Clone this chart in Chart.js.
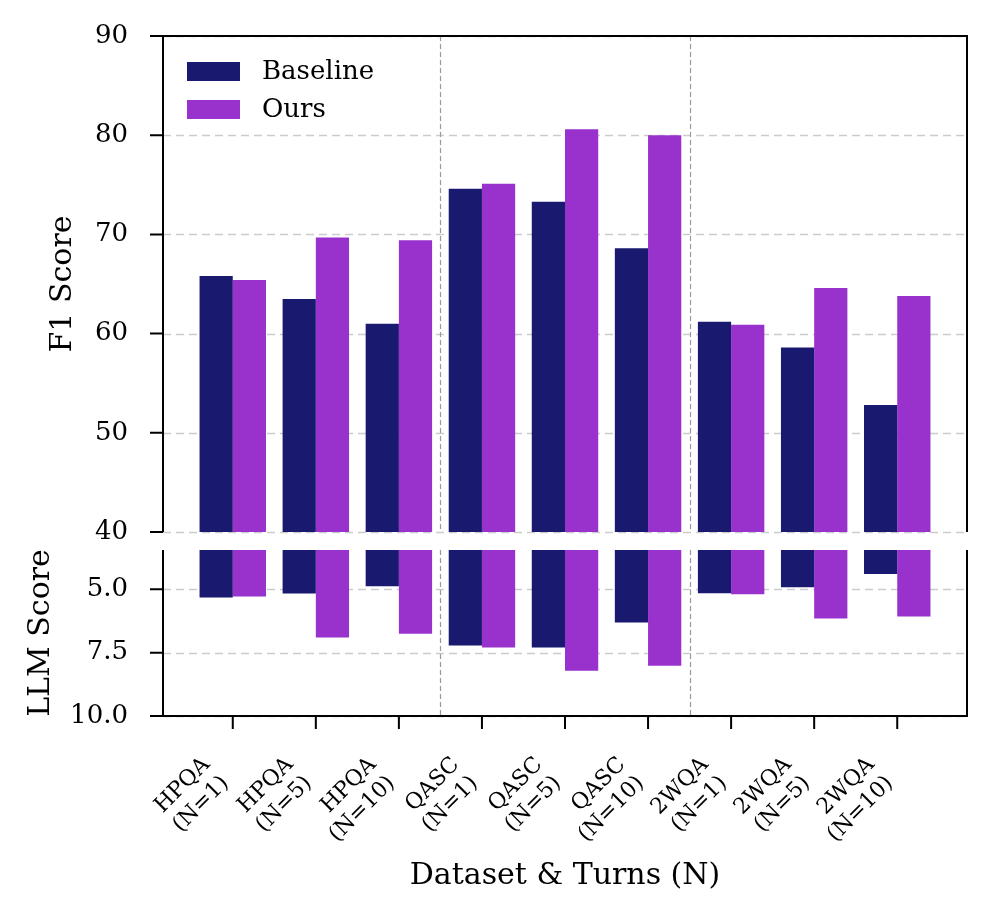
<!DOCTYPE html>
<html>
<head>
<meta charset="utf-8">
<script src="https://cdn.jsdelivr.net/npm/chart.js@4.4.1/dist/chart.umd.min.js"></script>
<style>
  html, body { margin: 0; padding: 0; background: #fff; }
  #wrap { position: relative; width: 995px; height: 919px; background: #fff; }
  canvas { position: absolute; left: 0; }
  #topChart { top: 0; }
  #bottomChart { top: 540px; }
</style>
</head>
<body>
<div id="wrap">
  <canvas id="topChart" width="995" height="545"></canvas>
  <canvas id="bottomChart" width="995" height="379"></canvas>
</div>
<script>
// Dataset & turns categories (two-line tick labels)
const categories = [
  ['HPQA', '(N=1)'], ['HPQA', '(N=5)'], ['HPQA', '(N=10)'],
  ['QASC', '(N=1)'], ['QASC', '(N=5)'], ['QASC', '(N=10)'],
  ['2WQA', '(N=1)'], ['2WQA', '(N=5)'], ['2WQA', '(N=10)']
];
const seriesNames = ['Baseline', 'Ours'];

const baselineF1 = [65.8, 63.5, 61.0, 74.6, 73.3, 68.6, 61.2, 58.6, 52.8];
const oursF1     = [65.4, 69.7, 69.4, 75.1, 80.6, 80.0, 60.9, 64.6, 63.8];

const baselineLLM = [5.32, 5.17, 4.88, 7.22, 7.30, 6.31, 5.16, 4.92, 4.40];
const oursLLM     = [5.28, 6.90, 6.75, 7.30, 8.21, 8.02, 5.20, 6.15, 6.07];

const f1Ticks  = [40, 50, 60, 70, 80, 90];
const llmTicks = [5.0, 7.5, 10.0];
const groupSeparators = [2.5, 5.5];

const COLORS = ['#191970', '#9932CC'];
const FONT = 'DejaVu Serif';

function toPoints(arr) {
  return arr.map((v, i) => ({ x: i, y: v }));
}

// grid, spines, tick marks and separators for a broken-axis panel
const framePlugin = {
  id: 'frame',
  beforeDatasetsDraw(chart, args, opts) {
    const { ctx, chartArea: a, scales: { x, y } } = chart;
    ctx.save();
    ctx.strokeStyle = '#cccccc';
    ctx.lineWidth = 1.5;
    ctx.setLineDash([8, 5]);
    y.ticks.forEach(t => {
      const py = Math.round(y.getPixelForValue(t.value)) + 0.5;
      ctx.beginPath(); ctx.moveTo(a.left, py); ctx.lineTo(a.right, py); ctx.stroke();
    });
    ctx.strokeStyle = '#999999';
    ctx.lineWidth = 1.2;
    ctx.setLineDash([5, 3]);
    groupSeparators.forEach(v => {
      const px = Math.round(x.getPixelForValue(v)) + 0.5;
      ctx.beginPath(); ctx.moveTo(px, a.top); ctx.lineTo(px, a.bottom); ctx.stroke();
    });
    ctx.restore();
  },
  afterDatasetsDraw(chart, args, opts) {
    const { ctx, chartArea: a, scales: { x, y } } = chart;
    ctx.save();
    ctx.strokeStyle = '#000';
    ctx.lineWidth = 2;
    ctx.setLineDash([]);
    ctx.beginPath();
    ctx.moveTo(a.left, a.top); ctx.lineTo(a.left, a.bottom);
    ctx.moveTo(a.right, a.top); ctx.lineTo(a.right, a.bottom);
    if (opts.top) { ctx.moveTo(a.left - 1, a.top); ctx.lineTo(a.right + 1, a.top); }
    if (opts.bottom) { ctx.moveTo(a.left - 1, a.bottom); ctx.lineTo(a.right + 1, a.bottom); }
    ctx.stroke();
    // tick marks
    ctx.beginPath();
    y.ticks.forEach(t => {
      const py = y.getPixelForValue(t.value);
      ctx.moveTo(a.left - 13, py); ctx.lineTo(a.left, py);
    });
    if (opts.xTicks) {
      x.ticks.forEach(t => {
        const px = x.getPixelForValue(t.value);
        ctx.moveTo(px, a.bottom); ctx.lineTo(px, a.bottom + 13);
      });
    }
    ctx.stroke();
    ctx.restore();
  }
};

// legend inside upper-left of the top panel
const legendPlugin = {
  id: 'innerLegend',
  afterDraw(chart) {
    const { ctx, chartArea: a } = chart;
    ctx.save();
    ctx.font = '26px "' + FONT + '"';
    ctx.textBaseline = 'middle';
    chart.data.datasets.forEach((ds, i) => {
      const y0 = a.top + 26 + i * 38;
      ctx.fillStyle = ds.backgroundColor;
      ctx.fillRect(a.left + 24, y0, 53, 19);
      ctx.fillStyle = '#000';
      ctx.fillText(ds.label, a.left + 99, y0 + 10);
    });
    ctx.restore();
  }
};

function xScale(showLabels) {
  return {
    type: 'linear',
    min: -0.84,
    max: 8.84,
    offset: false,
    display: showLabels,
    grid: { display: false, drawTicks: false },
    border: { display: false },
    afterBuildTicks: s => { s.ticks = categories.map((c, i) => ({ value: i })); },
    ticks: {
      autoSkip: false,
      minRotation: 45,
      maxRotation: 45,
      padding: 36,
      labelOffset: -26,
      color: '#000',
      font: { family: FONT, size: 22 },
      callback: v => categories[v]
    },
    title: {
      display: showLabels,
      text: 'Dataset & Turns (N)',
      color: '#000',
      font: { family: FONT, size: 30 },
      padding: { top: 0, bottom: 25 }
    },
    afterFit: s => {
      if (showLabels) s.height = 203;
      s.paddingLeft = 0; s.paddingRight = 0;
    }
  };
}

function yScale(opts) {
  return {
    type: 'linear',
    min: opts.min,
    max: opts.max,
    reverse: !!opts.reverse,
    grid: { display: false, drawTicks: false },
    border: { display: false },
    afterBuildTicks: s => { s.ticks = opts.ticks.map(v => ({ value: v })); },
    ticks: {
      padding: 35,
      color: '#000',
      font: { family: FONT, size: 26 },
      callback: opts.fmt
    },
    title: {
      display: true,
      text: opts.title,
      color: '#000',
      font: { family: FONT, size: 30 },
      padding: { top: opts.titlePad, bottom: 0 }
    },
    afterFit: s => {
      s.width = 163;
      s.paddingTop = 0; s.paddingBottom = 0;
    }
  };
}

function makeDatasets(a, b) {
  return [
    { label: seriesNames[0], data: toPoints(a), backgroundColor: COLORS[0], borderWidth: 0 },
    { label: seriesNames[1], data: toPoints(b), backgroundColor: COLORS[1], borderWidth: 0 }
  ];
}

const common = {
  responsive: false,
  animation: false,
  devicePixelRatio: 1,
  plugins: { legend: { display: false }, tooltip: { enabled: false } },
  datasets: { bar: { categoryPercentage: 0.8, barPercentage: 1.0 } }
};

new Chart(document.getElementById('topChart'), {
  type: 'bar',
  data: { datasets: makeDatasets(baselineF1, oursF1) },
  options: Object.assign({}, common, {
    layout: { padding: { left: 0, right: 28, top: 36, bottom: 13 } },
    scales: {
      x: xScale(false),
      y: yScale({ min: 40, max: 90, ticks: f1Ticks, title: 'F1 Score', titlePad: 45, fmt: v => String(v) })
    },
    plugins: Object.assign({}, common.plugins, { frame: { top: true, bottom: false, xTicks: false } })
  }),
  plugins: [framePlugin, legendPlugin]
});

new Chart(document.getElementById('bottomChart'), {
  type: 'bar',
  data: { datasets: makeDatasets(baselineLLM, oursLLM) },
  options: Object.assign({}, common, {
    layout: { padding: { left: 0, right: 28, top: 10, bottom: 0 } },
    scales: {
      x: xScale(true),
      y: yScale({ min: 3.45, max: 10, reverse: true, ticks: llmTicks, title: 'LLM Score', titlePad: 23, fmt: v => v.toFixed(1) })
    },
    plugins: Object.assign({}, common.plugins, { frame: { top: false, bottom: true, xTicks: true } })
  }),
  plugins: [framePlugin]
});
</script>
</body>
</html>
